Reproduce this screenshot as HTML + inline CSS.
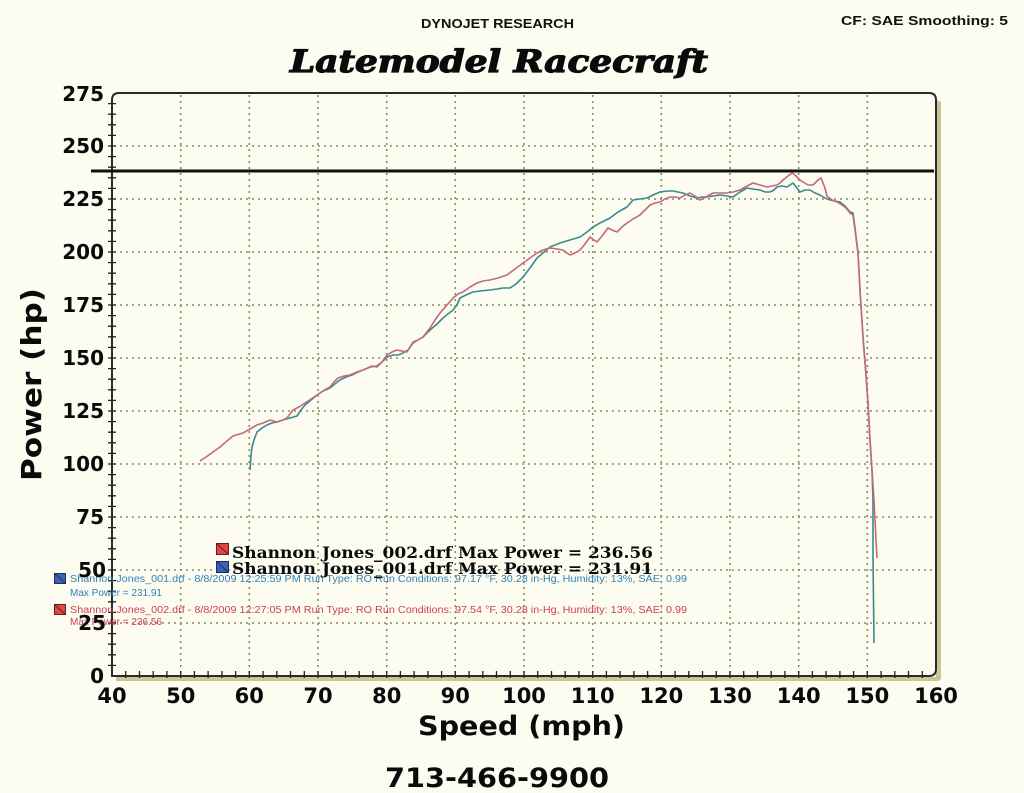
<!DOCTYPE html>
<html>
<head>
<meta charset="utf-8">
<style>
  html,body{margin:0;padding:0;background:#fcfcf1;}
  svg{display:block;}
</style>
</head>
<body>
<svg width="1024" height="793" viewBox="0 0 1024 793" xmlns="http://www.w3.org/2000/svg">
  <rect x="0" y="0" width="1024" height="793" fill="#fcfcf1"/>

  <!-- header -->
  <text x="421" y="28" font-family="Liberation Sans, sans-serif" font-weight="bold" font-size="13" textLength="153" lengthAdjust="spacingAndGlyphs" fill="#111">DYNOJET RESEARCH</text>
  <text x="841" y="25" font-family="Liberation Sans, sans-serif" font-weight="bold" font-size="13" textLength="167" lengthAdjust="spacingAndGlyphs" fill="#111">CF: SAE  Smoothing: 5</text>
  <text x="290" y="72" font-family="DejaVu Serif, serif" font-weight="bold" font-style="italic" font-size="31" textLength="418" lengthAdjust="spacingAndGlyphs" fill="#0a0a0a" stroke="#0a0a0a" stroke-width="1.2">Latemodel Racecraft</text>

  <!-- frame shadow -->
  <path d="M937,100 L941,102 L941,678 Q941,681 937,681 L116,681 L116,677 L936,677 Z" fill="#cbc493"/>

  <!-- grid -->
  <g stroke="#8a8a66" stroke-width="1.6" stroke-dasharray="2,4" fill="none">
    <line x1="180.7" y1="95" x2="180.7" y2="675"/>
    <line x1="249.3" y1="95" x2="249.3" y2="675"/>
    <line x1="318" y1="95" x2="318" y2="675"/>
    <line x1="386.7" y1="95" x2="386.7" y2="675"/>
    <line x1="455.3" y1="95" x2="455.3" y2="675"/>
    <line x1="524" y1="95" x2="524" y2="675"/>
    <line x1="592.7" y1="95" x2="592.7" y2="675"/>
    <line x1="661.3" y1="95" x2="661.3" y2="675"/>
    <line x1="730" y1="95" x2="730" y2="675"/>
    <line x1="798.7" y1="95" x2="798.7" y2="675"/>
    <line x1="867.3" y1="95" x2="867.3" y2="675"/>
    <line x1="114" y1="623" x2="935" y2="623"/>
    <line x1="114" y1="570" x2="935" y2="570"/>
    <line x1="114" y1="517" x2="935" y2="517"/>
    <line x1="114" y1="464" x2="935" y2="464"/>
    <line x1="114" y1="411" x2="935" y2="411"/>
    <line x1="114" y1="358" x2="935" y2="358"/>
    <line x1="114" y1="305" x2="935" y2="305"/>
    <line x1="114" y1="252" x2="935" y2="252"/>
    <line x1="114" y1="199" x2="935" y2="199"/>
    <line x1="114" y1="146" x2="935" y2="146"/>
  </g>

  <!-- frame -->
  <path d="M112,676 L112,100 Q112,93 119,93 L929,93 Q936,93 936,100 L936,669 Q936,676 929,676 Z" fill="none" stroke="#2a2a2a" stroke-width="2"/>

  <!-- y minor ticks -->
  <g stroke="#222" stroke-width="1.3">
    <path d="M108,665.4h8M108,654.8h8M108,644.2h8M108,633.6h8M108,623h8M108,612.4h8M108,601.8h8M108,591.2h8M108,580.6h8M108,570h8M108,559.4h8M108,548.8h8M108,538.2h8M108,527.6h8M108,517h8M108,506.4h8M108,495.8h8M108,485.2h8M108,474.6h8M108,464h8M108,453.4h8M108,442.8h8M108,432.2h8M108,421.6h8M108,411h8M108,400.4h8M108,389.8h8M108,379.2h8M108,368.6h8M108,358h8M108,347.4h8M108,336.8h8M108,326.2h8M108,315.6h8M108,305h8M108,294.4h8M108,283.8h8M108,273.2h8M108,262.6h8M108,252h8M108,241.4h8M108,230.8h8M108,220.2h8M108,209.6h8M108,199h8M108,188.4h8M108,177.8h8M108,167.2h8M108,156.6h8M108,146h8M108,135.4h8M108,124.8h8M108,114.2h8M108,103.6h8"/>
    <path d="M125.7,671v7M139.5,671v7M153.2,671v7M166.9,671v7M180.7,671v7M194.4,671v7M208.1,671v7M221.9,671v7M235.6,671v7M249.3,671v7M263.1,671v7M276.8,671v7M290.5,671v7M304.3,671v7M318,671v7M331.7,671v7M345.5,671v7M359.2,671v7M372.9,671v7M386.7,671v7M400.4,671v7M414.1,671v7M427.9,671v7M441.6,671v7M455.3,671v7M469.1,671v7M482.8,671v7M496.5,671v7M510.3,671v7M524,671v7M537.7,671v7M551.5,671v7M565.2,671v7M578.9,671v7M592.7,671v7M606.4,671v7M620.1,671v7M633.9,671v7M647.6,671v7M661.3,671v7M675.1,671v7M688.8,671v7M702.5,671v7M716.3,671v7M730,671v7M743.7,671v7M757.5,671v7M771.2,671v7M784.9,671v7M798.7,671v7M812.4,671v7M826.1,671v7M839.9,671v7M853.6,671v7M867.3,671v7M881.1,671v7M894.8,671v7M908.5,671v7M922.3,671v7"/>
  </g>

  <!-- max line -->
  <line x1="91" y1="171" x2="934" y2="171" stroke="#111" stroke-width="3"/>

  <!-- curves -->
  <polyline fill="none" stroke="#3a8a8e" stroke-width="1.6" stroke-linejoin="round" points="250,470 251,455 252,447 254,440 257,432 262,428 267,425 272,423 277,422 283,420 290,418 297,416 301,410 305,405 311,400 317,395 323,391 330,388 336,383 340,380 346,377 352,375 358,372 363,370 370,367 377,366 382,362 387,357 393,355 398,355 403,353 408,350 413,343 418,340 423,337 430,330 437,324 443,318 448,314 453,310 457,305 460,298 466,295 473,292 480,291 490,290 497,289 503,288 510,288 516,284 523,277 530,268 537,258 543,253 550,247 560,243 570,240 580,237 587,232 593,227 600,223 610,218 618,212 627,207 633,200 640,199 647,198 653,195 660,192 667,191 673,191 678,192 683,193 690,196 697,198 702,197 707,197 713,196 720,195 727,196 733,197 740,192 747,188 753,189 760,190 765,192 770,192 774,190 777,187 782,186 787,187 790,185 793,183 797,188 800,192 805,190 810,190 815,193 820,195 825,198 830,200 835,201 840,202 845,206 850,212 853,213 855,228 858,253 860,290 863,337 866,375 868,403 870,440 872,470 873,500 873,558 874,643"/>
  <polyline fill="none" stroke="#c5687d" stroke-width="1.6" stroke-linejoin="round" points="200,461 206,457 213,452 220,447 227,441 233,436 243,433 250,429 257,425 263,423 270,420 277,422 283,420 287,418 293,410 299,407 305,403 311,399 317,395 323,391 330,387 334,382 338,378 344,376 350,375 357,372 363,370 368,368 372,366 377,367 382,362 387,355 392,352 397,350 402,351 407,352 413,342 418,340 423,337 430,328 435,320 440,313 447,305 453,298 458,294 463,292 470,287 477,283 483,281 490,280 498,278 507,275 515,269 523,263 530,258 537,253 543,250 550,248 557,249 563,250 567,253 570,255 575,253 580,250 585,244 590,237 594,240 597,242 602,236 608,228 612,230 617,232 622,227 627,223 633,219 640,215 645,210 650,205 655,203 660,202 665,199 670,197 675,197 680,198 685,195 690,193 695,196 700,200 706,197 713,193 720,193 727,193 733,192 740,190 747,186 753,183 760,185 767,187 772,186 777,185 780,183 783,180 788,176 792,173 795,175 797,177 800,180 803,182 808,185 813,185 818,180 821,178 825,188 827,196 832,200 837,202 842,205 846,208 850,213 853,215 855,230 858,253 860,290 863,337 866,375 868,403 870,440 872,470 874,500 875,520 876,540 877,558"/>

  <!-- small legend lines -->
  <g font-family="Liberation Sans, sans-serif" font-size="10">
    <rect x="54.5" y="573.5" width="11" height="10" fill="#3a62b0" stroke="#1c2f60"/>
    <line x1="55" y1="574" x2="65" y2="583" stroke="#1c2f60"/>
    <text x="70" y="582" fill="#2f82b8" textLength="617" lengthAdjust="spacingAndGlyphs">Shannon Jones_001.drf - 8/8/2009 12:25:59 PM  Run Type: RO  Run Conditions: 97.17 °F, 30.28 in-Hg,  Humidity:  13%, SAE: 0.99</text>
    <text x="70" y="596" fill="#2f82b8">Max Power = 231.91</text>
    <rect x="54.5" y="604.5" width="11" height="10" fill="#e04848" stroke="#6a1c1c"/>
    <line x1="55" y1="605" x2="65" y2="614" stroke="#6a1c1c"/>
    <text x="70" y="613" fill="#d0404e" textLength="617" lengthAdjust="spacingAndGlyphs">Shannon Jones_002.drf - 8/8/2009 12:27:05 PM  Run Type: RO  Run Conditions: 97.54 °F, 30.28 in-Hg,  Humidity:  13%, SAE: 0.99</text>
    <text x="70" y="625" fill="#d0404e">Max Power = 236.56</text>
  </g>

  <!-- big legend -->
  <rect x="216.5" y="543.5" width="12" height="11" fill="#e04848" stroke="#6a1c1c"/>
  <line x1="217" y1="544" x2="228" y2="554" stroke="#6a1c1c"/>
  <rect x="216.5" y="561.5" width="12" height="11" fill="#3a62b0" stroke="#1c2f60"/>
  <line x1="217" y1="562" x2="228" y2="572" stroke="#1c2f60"/>
  <g font-family="DejaVu Serif, serif" font-weight="bold" font-size="16" fill="#0a0a0a">
    <text x="232" y="558" textLength="421" lengthAdjust="spacingAndGlyphs">Shannon Jones_002.drf Max Power = 236.56</text>
    <text x="232" y="574" textLength="421" lengthAdjust="spacingAndGlyphs">Shannon Jones_001.drf Max Power = 231.91</text>
  </g>

  <!-- y labels -->
  <g font-family="DejaVu Sans, sans-serif" font-weight="bold" font-size="20" fill="#0a0a0a" text-anchor="end">
    <text x="104" y="683">0</text>
    <text x="106" y="630">25</text>
    <text x="106" y="577">50</text>
    <text x="104" y="524">75</text>
    <text x="104" y="471">100</text>
    <text x="104" y="418">125</text>
    <text x="104" y="365">150</text>
    <text x="104" y="312">175</text>
    <text x="104" y="259">200</text>
    <text x="104" y="206">225</text>
    <text x="104" y="153">250</text>
    <text x="104" y="101">275</text>
  </g>

  <!-- x labels -->
  <g font-family="DejaVu Sans, sans-serif" font-weight="bold" font-size="21" fill="#0a0a0a" text-anchor="middle">
    <text x="112" y="703">40</text>
    <text x="180.7" y="703">50</text>
    <text x="249.3" y="703">60</text>
    <text x="318" y="703">70</text>
    <text x="386.7" y="703">80</text>
    <text x="455.3" y="703">90</text>
    <text x="524" y="703">100</text>
    <text x="592.7" y="703">110</text>
    <text x="661.3" y="703">120</text>
    <text x="730" y="703">130</text>
    <text x="798.7" y="703">140</text>
    <text x="867.3" y="703">150</text>
    <text x="936" y="703">160</text>
  </g>

  <!-- axis titles -->
  <text x="418" y="735" font-family="DejaVu Sans, sans-serif" font-weight="bold" font-size="27" textLength="207" lengthAdjust="spacingAndGlyphs" fill="#0a0a0a">Speed (mph)</text>
  <text transform="translate(41,481) rotate(-90)" x="0" y="0" font-family="DejaVu Sans, sans-serif" font-weight="bold" font-size="28" textLength="193" lengthAdjust="spacingAndGlyphs" fill="#0a0a0a">Power (hp)</text>

  <!-- phone -->
  <text x="385" y="787" font-family="DejaVu Sans, sans-serif" font-weight="bold" font-size="27" textLength="224" lengthAdjust="spacingAndGlyphs" fill="#0a0a0a">713-466-9900</text>
</svg>
</body>
</html>
